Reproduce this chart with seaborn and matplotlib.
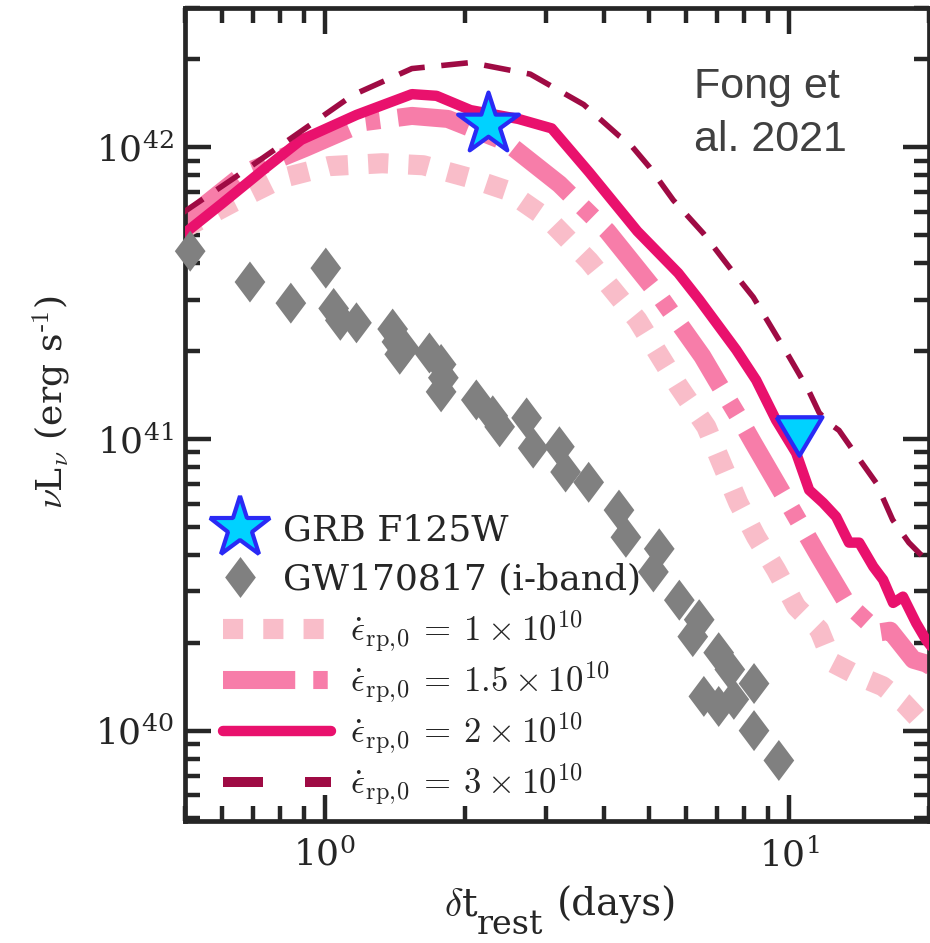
import numpy as np
import pandas as pd
import matplotlib
matplotlib.use("Agg")
import matplotlib.pyplot as plt
import seaborn as sns
from matplotlib.lines import Line2D
from matplotlib.ticker import LogLocator, NullFormatter
from matplotlib.font_manager import FontProperties

# ---------------- data ----------------
# model curves: rest-frame time (days) and nu L_nu (erg/s)
t_rp1 = [0.49, 0.637, 0.808, 1.02, 1.33, 1.63, 2.06, 2.46, 3.03, 3.71, 4.71, 5.77,
         6.63, 7.21, 7.77, 8.49, 9.37, 10.35, 11.6, 12.4, 14.2, 15.9, 17.6, 19.4, 21]
L_rp1 = [5.2e41, 6.49e41, 7.83e41, 8.61e41, 8.81e41, 8.67e41, 7.83e41, 7.12e41, 5.66e41,
         4.07e41, 2.56e41, 1.52e41, 1.10e41, 8.0e40, 6.04e40, 4.61e40, 3.56e40, 2.66e40,
         2.22e40, 1.71e40, 1.53e40, 1.42e40, 1.25e40, 1.06e40, 0.98e40]

t_rp15 = [0.49, 0.676, 0.906, 1.22, 1.54, 1.84, 2.46, 3.20, 4.06, 5.28, 6.50, 6.97, 7.73,
          8.37, 9.86, 11.6, 13.3, 15.6, 16.5, 18.5, 19.7, 21]
L_rp15 = [5.45e41, 8.2e41, 9.93e41, 1.22e42, 1.28e42, 1.25e42, 1.04e42, 7.47e41, 5.15e41,
          3.06e41, 1.92e41, 1.59e41, 1.21e41, 9.68e40, 6.18e40, 3.95e40, 2.74e40, 2.17e40,
          2.2e40, 1.75e40, 1.7e40, 1.6e40]

t_rp2 = [0.49, 0.6, 0.75, 0.89, 1.17, 1.54, 1.74, 2.06, 2.61, 3.08, 3.71, 4.71, 5.77, 6.4,
         7.69, 8.49, 9.37, 10.35, 11.04, 11.83, 12.62, 13.45, 14.15, 15.17, 15.93, 16.74,
         17.58, 18.76, 19.7, 21]
L_rp2 = [4.95e41, 6.4e41, 8.55e41, 1.06e42, 1.29e42, 1.52e42, 1.50e42, 1.34e42, 1.25e42,
         1.16e42, 8.2e41, 5.15e41, 3.70e41, 3.0e41, 2.02e41, 1.59e41, 1.16e41, 8.95e40,
         6.68e40, 6.04e40, 5.41e40, 4.41e40, 4.41e40, 3.65e40, 3.29e40, 2.74e40, 2.88e40,
         2.34e40, 2.05e40, 1.8e40]

t_rp3 = [0.49, 0.637, 0.858, 1.15, 1.54, 2.06, 2.77, 3.61, 4.31, 4.53, 5.0, 5.63, 6.53,
         7.43, 8.37, 10.0, 11.0, 11.6, 12.2, 12.8, 13.7, 15.4, 16.7, 18.1, 19.7, 21]
L_rp3 = [5.9e41, 7.83e41, 1.09e42, 1.51e42, 1.86e42, 1.95e42, 1.78e42, 1.40e42, 1.09e42,
         1.03e42, 8.55e41, 6.58e41, 5.07e41, 3.88e41, 3.06e41, 1.91e41, 1.47e41, 1.23e41,
         1.13e41, 1.07e41, 9.17e40, 7.06e40, 5.28e40, 4.41e40, 3.85e40, 3.4e40]

# GW170817 i-band
t_gw = [0.513, 0.69, 0.845, 1.005, 1.045, 1.08, 1.17, 1.40, 1.43, 1.45, 1.48, 1.68, 1.78,
        1.80, 1.78, 2.12, 2.30, 2.38, 2.72, 2.81, 3.20, 3.30, 3.70, 4.30, 4.45, 5.25, 5.10,
        5.80, 6.40, 6.20, 7.05, 7.45, 8.40, 6.55, 7.05, 7.60, 8.40, 9.50]
L_gw = [4.4e41, 3.45e41, 2.92e41, 3.85e41, 2.8e41, 2.55e41, 2.5e41, 2.38e41, 2.15e41,
        1.95e41, 2.05e41, 1.97e41, 1.80e41, 1.62e41, 1.45e41, 1.36e41, 1.20e41, 1.10e41,
        1.18e41, 0.93e41, 0.94e41, 0.77e41, 0.71e41, 0.57e41, 0.46e41, 0.42e41, 0.35e41,
        0.28e41, 0.24e41, 0.21e41, 0.185e41, 0.162e41, 0.145e41, 0.131e41, 0.121e41,
        0.128e41, 0.100e41, 0.079e41]

# GRB F125W detection and upper limit
t_grb = [2.25]
L_grb = [1.2e42]
t_lim = [10.5]
L_lim = [1.02e41]

labels_models = [r"$\dot{\epsilon}_{\rm rp,\!0}\:=\:1\:\times\:10^{10}$",
                 r"$\dot{\epsilon}_{\rm rp,\!0}\:=\:1.5\:\times\:10^{10}$",
                 r"$\dot{\epsilon}_{\rm rp,\!0}\:=\:2\:\times\:10^{10}$",
                 r"$\dot{\epsilon}_{\rm rp,\!0}\:=\:3\:\times\:10^{10}$"]
labels_obs = ["GRB F125W", "GW170817 (i-band)"]
x_ticks = [1, 10]
y_ticks = [1e40, 1e41, 1e42]

# ---------------- style ----------------
sns.set_theme(style="ticks")
plt.rcParams.update({
    "font.family": ["DejaVu Serif"],
    "mathtext.fontset": "dejavuserif",
    "axes.edgecolor": "#262626",
    "axes.linewidth": 3.4,
    "xtick.direction": "in", "ytick.direction": "in",
    "xtick.top": True, "ytick.right": True,
    "xtick.color": "#262626", "ytick.color": "#262626",
    "text.color": "#262626", "axes.labelcolor": "#262626",
})

c1 = "#F9BDC9"
c15 = "#F77DA9"
c2 = "#E9116D"
c3 = "#9F0B44"
cyan = "#00D2FF"
blue = "#2A2AF5"
gray = "#808080"

diamond = [(0, 1), (0.75, 0), (0, -1), (-0.75, 0), (0, 1)]
tri_down = [(-1, 0.84), (1, 0.84), (0, -0.84), (-1, 0.84)]

fig = plt.figure(figsize=(9.30, 9.43), dpi=100)
ax = fig.add_axes([185/930, 1 - 821/943, 744/930, 813/943])

sns.lineplot(x=t_rp1, y=L_rp1, ax=ax, color=c1, lw=14.5, linestyle=(0, (1, 1)),
             dash_capstyle="butt", zorder=2)
sns.lineplot(x=t_rp15, y=L_rp15, ax=ax, color=c15, lw=13, linestyle=(0, (4, 1, 0.8, 1)),
             dash_capstyle="butt", zorder=2)
sns.lineplot(x=t_rp2, y=L_rp2, ax=ax, color=c2, lw=7.5, zorder=3)
sns.lineplot(x=t_rp3, y=L_rp3, ax=ax, color=c3, lw=4, linestyle=(0, (4.8, 3)),
             dash_capstyle="butt", zorder=3)

sns.scatterplot(x=t_gw, y=L_gw, ax=ax, marker=diamond, s=29.5**2, color=gray,
                edgecolor="none", linewidth=0, zorder=4, clip_on=False)
sns.scatterplot(x=t_grb, y=L_grb, ax=ax, marker="*", s=46**2, color=cyan,
                edgecolor=blue, linewidth=3, zorder=5, clip_on=False)
sns.scatterplot(x=t_lim, y=L_lim, ax=ax, marker=tri_down, s=33**2, color=cyan,
                edgecolor=blue, linewidth=3, zorder=5, clip_on=False)

ax.set_xscale("log")
ax.set_yscale("log")
ax.set_xlim(0.5, 20)
ax.set_ylim(4.9e39, 3.0e42)

ax.set_xticks(x_ticks)
ax.set_yticks(y_ticks)
ax.xaxis.set_minor_locator(LogLocator(base=10, subs=np.arange(2, 10)))
ax.yaxis.set_minor_locator(LogLocator(base=10, subs=np.arange(2, 10)))
ax.xaxis.set_minor_formatter(NullFormatter())
ax.yaxis.set_minor_formatter(NullFormatter())
ax.tick_params(which="major", length=19, width=3.2, labelsize=26, pad=12)
ax.tick_params(which="minor", length=11, width=3.2)
ax.tick_params(axis="y", which="major", pad=8)

# x label (delta t_rest (days)) built from pieces to match the large subscript
ax.set_xlabel("")
fig.text(444/930, 1 - 916/943, r"$\delta$t", fontsize=28, va="baseline", ha="left",
         math_fontfamily="cm")
fig.text(477/930, 1 - 934/943, "rest", fontsize=24, va="baseline", ha="left")
fig.text(557/930, 1 - 916/943, "(days)", fontsize=28, va="baseline", ha="left")

ax.set_ylabel(r"$\nu$L$_\nu$ (erg s$^{\text{-1}}$)", fontsize=26, math_fontfamily="cm")
ax.yaxis.set_label_coords(-0.15, 0.515)

ax.text(0.684, 0.927, "Fong et\nal. 2021", transform=ax.transAxes, ha="left", va="top",
        fontsize=31, family="Liberation Sans", color="#404040", linespacing=1.4)

# legends
h_obs = [Line2D([], [], ls="none", marker="*", ms=46, mfc=cyan, mec=blue, mew=3),
         Line2D([], [], ls="none", marker=diamond, ms=29.5, mfc=gray, mec="none")]
leg1 = ax.legend(h_obs, labels_obs, loc="center left", bbox_to_anchor=(0.051, 0.327),
                 frameon=False, handlelength=0.95, handletextpad=0.7, borderpad=0,
                 borderaxespad=0, labelspacing=0.4,
                 prop=FontProperties(family="DejaVu Serif", size=26))
ax.add_artist(leg1)

h_mod = [Line2D([], [], color=c1, lw=14.5, ls=(0, (1, 1)), dash_capstyle="butt"),
         Line2D([], [], color=c15, lw=13, ls=(0, (4, 1, 0.8, 1)), dash_capstyle="butt"),
         Line2D([], [], color=c2, lw=7.5),
         Line2D([], [], color=c3, lw=7.2, ls=(0, (4, 4.2)), dash_capstyle="butt")]
leg2 = ax.legend(h_mod, labels_models, loc="center left", bbox_to_anchor=(0.051, 0.139),
                 frameon=False, handlelength=3.1, handletextpad=0.55, borderpad=0,
                 borderaxespad=0, labelspacing=0.15,
                 prop=FontProperties(family="DejaVu Serif", size=25, math_fontfamily="cm"))

fig.savefig("out.png", dpi=100)
